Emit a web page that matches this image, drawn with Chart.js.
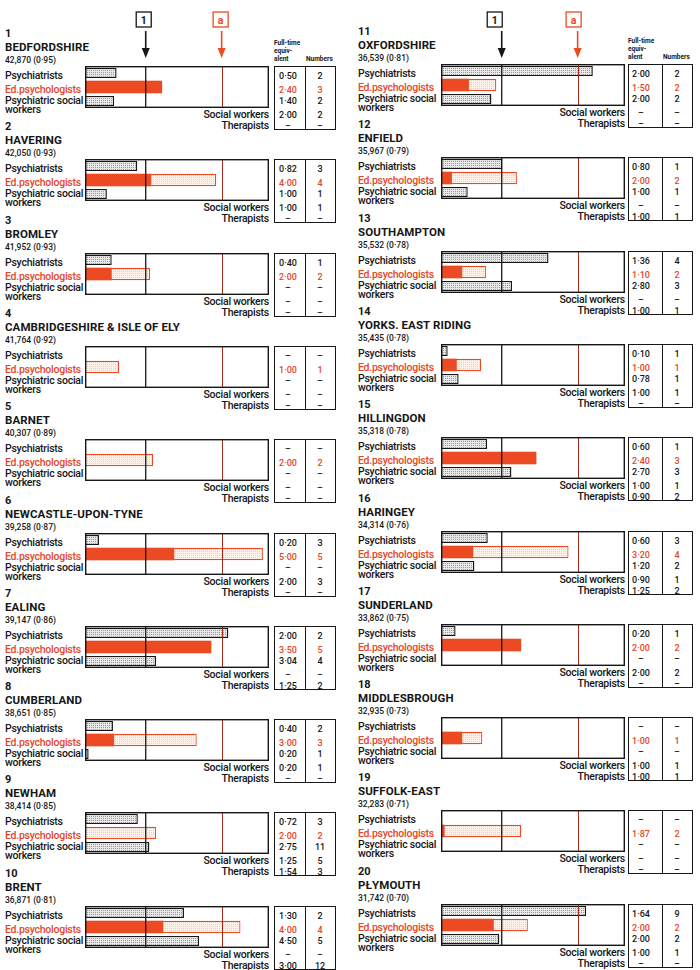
<!DOCTYPE html>
<html>
<head>
<meta charset="utf-8">
<script src="https://cdn.jsdelivr.net/npm/chart.js@4"></script>
<style>
  body { margin: 0; background: #fff; }
  #page { position: relative; width: 700px; height: 970px; overflow: hidden;
          font-family: Roboto, "Liberation Sans", Arial, sans-serif; color: #161616; }
  .t { position: absolute; white-space: nowrap; line-height: 12px; height: 12px; }
  .lab { font-size: 10.5px; font-weight: 500; letter-spacing: -0.25px; }
  .red { color: #e2472a; }
  .num { font-size: 11px; font-weight: 700; }
  .name { font-size: 11.5px; font-weight: 700; letter-spacing: 0.1px; }
  .pop { font-size: 8.5px; font-weight: 500; }
  .cell { font-size: 9px; font-weight: 500; transform: translateX(-50%); }
  .hd { font-size: 6.5px; font-weight: 700; line-height: 8px; height: 8px; }
  .tbl { position: absolute; border: 1.3px solid #161616; box-sizing: border-box; }
  .tbl i { position: absolute; top: 0; bottom: 0; border-left: 1.2px solid #161616; }
  .box { position: absolute; }
  svg { position: absolute; left: 0; top: 0; }
</style>
</head>
<body>
<div id="page">
  <svg id="heads" width="700" height="70"></svg>
</div>
<script>
// areas, school population and index
const names = ['BEDFORDSHIRE', 'HAVERING', 'BROMLEY', 'CAMBRIDGESHIRE & ISLE OF ELY', 'BARNET',
  'NEWCASTLE-UPON-TYNE', 'EALING', 'CUMBERLAND', 'NEWHAM', 'BRENT',
  'OXFORDSHIRE', 'ENFIELD', 'SOUTHAMPTON', 'YORKS. EAST RIDING', 'HILLINGDON',
  'HARINGEY', 'SUNDERLAND', 'MIDDLESBROUGH', 'SUFFOLK-EAST', 'PŁYMOUTH'];
const population = [42870, 42050, 41952, 41764, 40307, 39258, 39147, 38651, 38414, 36871,
  36539, 35967, 35532, 35435, 35318, 34314, 33862, 32935, 32283, 31742];
const popIndex = [0.95, 0.93, 0.93, 0.92, 0.89, 0.87, 0.86, 0.85, 0.85, 0.81,
  0.81, 0.79, 0.78, 0.78, 0.78, 0.76, 0.75, 0.73, 0.71, 0.70];

// bar lengths, in units of the standard (line "1")
const psychBar = [0.52, 0.86, 0.44, null, null, 0.23, 2.36, 0.46, 0.87, 1.63,
  2.50, 1.01, 1.77, 0.11, 0.76, 0.77, 0.24, null, null, 2.39];
const edBar = [1.27, 2.16, 1.07, 0.56, 1.12, 2.93, 2.08, 1.84, 1.17, 2.56,
  0.91, 1.25, 0.74, 0.66, 1.57, 2.10, 1.32, 0.68, 1.32, 1.43];
const edSolid = [1.27, 1.09, 0.44, 0, 0, 1.47, 2.08, 0.48, 0, 1.29,
  0.46, 0.18, 0.35, 0.26, 1.57, 0.53, 1.32, 0.35, 0.06, 0.87];
const pswBar = [0.48, 0.36, null, null, null, null, 1.17, 0.06, 1.06, 1.88,
  0.83, 0.44, 1.17, 0.29, 1.16, 0.55, null, null, null, 0.96];
const standardLine = 1;
const edLine = 2.25;

// table: full-time equivalent and numbers
const psychFte = [0.50, 0.82, 0.40, null, null, 0.20, 2.00, 0.40, 0.72, 1.30,
  2.00, 0.80, 1.36, 0.10, 0.60, 0.60, 0.20, null, null, 1.64];
const psychNum = [2, 3, 1, null, null, 3, 2, 2, 3, 2, 2, 1, 4, 1, 1, 3, 1, null, null, 9];
const edFte = [2.40, 4.00, 2.00, 1.00, 2.00, 5.00, 3.50, 3.00, 2.00, 4.00,
  1.50, 2.00, 1.10, 1.00, 2.40, 3.20, 2.00, 1.00, 1.87, 2.00];
const edNum = [3, 4, 2, 1, 2, 5, 5, 3, 2, 4, 2, 2, 2, 1, 3, 4, 2, 1, 2, 2];
const pswFte = [1.40, 1.00, null, null, null, null, 3.04, 0.20, 2.75, 4.50,
  2.00, 1.00, 2.80, 0.78, 2.70, 1.20, null, null, null, 2.00];
const pswNum = [2, 1, null, null, null, null, 4, 1, 11, 5, 2, 1, 3, 1, 3, 2, null, null, null, 2];
const swFte = [2.00, 1.00, null, null, null, 2.00, null, 0.20, 1.25, null,
  null, null, null, 1.00, 1.00, 0.90, 2.00, 1.00, null, 1.00];
const swNum = [2, 1, null, null, null, 3, null, 1, 5, null, null, null, null, 1, 1, 1, 2, 1, null, 1];
const therFte = [null, null, null, null, null, null, 1.25, null, 1.54, 3.00,
  null, 1.00, 1.00, null, 0.90, 1.25, null, 1.00, null, null];
const therNum = [null, null, null, null, null, null, 2, null, 3, 12, null, 1, 1, null, 2, 2, null, 1, null, null];

const RED = '#ec4a22';
const cols = [
  { boxLeft: 85, top0: 66, labelX: 5, tblLeft: 274, tblW: 62, div: 31, fteC: 14, numC: 46 },
  { boxLeft: 441, top0: 64, labelX: 358, tblLeft: 628, tblW: 65, div: 34, fteC: 13, numC: 49 }
];
const rowStep = 93.3, boxW = 184, boxH = 42;

const page = document.getElementById('page');

function put(text, x, yc, cls, align) {
  const d = document.createElement('div');
  d.className = 't ' + cls;
  d.textContent = text;
  d.style.top = (yc - 6) + 'px';
  if (align === 'right') d.style.right = (700 - x) + 'px';
  else d.style.left = x + 'px';
  page.appendChild(d);
  return d;
}

function fmt(v) { return v == null ? '–' : v.toFixed(2).replace('.', '·'); }

function stipple(bg, dot) {
  const c = document.createElement('canvas');
  c.width = 2; c.height = 2;
  const g = c.getContext('2d');
  g.fillStyle = bg; g.fillRect(0, 0, 2, 2);
  g.fillStyle = dot; g.fillRect(0, 0, 1, 1);
  return g.createPattern(c, 'repeat');
}
const grayFill = stipple('#e8e8e8', '#9a9a9a');
const paleFill = stipple('#fdf3eb', '#f0cdb8');

const frame = {
  id: 'frame',
  afterDatasetsDraw(chart) {
    const { ctx, chartArea: a, scales: { x } } = chart;
    ctx.save();
    ctx.strokeStyle = '#a52a1a';
    ctx.lineWidth = 1;
    const xr = Math.round(x.getPixelForValue(edLine)) + 0.5;
    ctx.beginPath(); ctx.moveTo(xr, a.top); ctx.lineTo(xr, a.bottom); ctx.stroke();
    ctx.strokeStyle = '#161616';
    ctx.lineWidth = 1.3;
    const xb = x.getPixelForValue(standardLine);
    ctx.beginPath(); ctx.moveTo(xb, a.top); ctx.lineTo(xb, a.bottom); ctx.stroke();
    ctx.lineWidth = 1.4;
    ctx.strokeRect(a.left + 0.7, a.top + 0.7, a.width - 1.4, a.height - 1.4);
    ctx.restore();
  }
};

const charts = [];
names.forEach((name, i) => {
  const c = cols[i < 10 ? 0 : 1];
  const T = c.top0 + (i % 10) * rowStep;
  const L = c.boxLeft;
  const X = c.labelX;

  put(String(i + 1), X, T - 32, 'num');
  put(name, X, T - 19, 'name');
  put(population[i].toLocaleString('en-GB') + ' (' + fmt(popIndex[i]) + ')', X, T - 6, 'pop');

  put('Psychiatrists', X, T + 10, 'lab');
  put('Ed.psychologists', X, T + 24, 'lab red');
  put('Psychiatric social', X, T + 35, 'lab');
  put('workers', X, T + 44, 'lab');
  put('Social workers', L + boxW, T + 49, 'lab', 'right');
  put('Therapists', L + boxW, T + 60, 'lab', 'right');

  // table
  const tb = document.createElement('div');
  tb.className = 'tbl';
  tb.style.left = c.tblLeft + 'px'; tb.style.top = T + 'px';
  tb.style.width = c.tblW + 'px'; tb.style.height = '64px';
  const dv = document.createElement('i');
  dv.style.left = (c.div - 1) + 'px';
  tb.appendChild(dv);
  page.appendChild(tb);
  const rows = [
    [psychFte[i], psychNum[i], T + 10, ''],
    [edFte[i], edNum[i], T + 24, ' red'],
    [pswFte[i], pswNum[i], T + 35, ''],
    [swFte[i], swNum[i], T + 49, ''],
    [therFte[i], therNum[i], T + 60, '']
  ];
  rows.forEach(r => {
    put(fmt(r[0]), c.tblLeft + c.fteC, r[2], 'cell' + r[3]);
    put(r[1] == null ? '–' : String(r[1]), c.tblLeft + c.numC, r[2], 'cell' + r[3]);
  });
  if (i % 10 === 0) {
    const hx = c.tblLeft;
    [['Full-time', T - 23], ['equiv-', T - 15], ['alent', T - 7]].forEach(h => {
      const d = put(h[0], hx, h[1], 'hd');
      d.style.top = (h[1] - 4) + 'px';
    });
    const d = put('Numbers', hx + c.div + 1, T - 7, 'hd');
    d.style.top = (T - 11) + 'px';
  }

  // bars
  const holder = document.createElement('div');
  holder.className = 'box';
  holder.style.left = L + 'px'; holder.style.top = T + 'px';
  holder.style.width = boxW + 'px'; holder.style.height = boxH + 'px';
  const cv = document.createElement('canvas');
  holder.appendChild(cv);
  page.appendChild(holder);

  charts.push(new Chart(cv, {
    type: 'bar',
    data: {
      labels: ['Psychiatrists', 'Ed.psychologists', 'Psychiatric social workers'],
      datasets: [
        { label: 'Ed.psychologists (solid)', data: [null, edSolid[i] || null, null],
          backgroundColor: RED, borderWidth: 0, order: 0,
          grouped: false, barPercentage: 0.9, categoryPercentage: 1 },
        { label: 'Ed.psychologists', data: [null, edBar[i], null],
          backgroundColor: paleFill, borderColor: RED, borderWidth: 1.2, borderSkipped: false, order: 1,
          grouped: false, barPercentage: 0.9, categoryPercentage: 1 },
        { label: 'Psychiatrists / PSW', data: [psychBar[i], null, pswBar[i]],
          backgroundColor: grayFill, borderColor: '#161616', borderWidth: 1.4, borderSkipped: false, order: 2,
          grouped: false, barPercentage: 0.72, categoryPercentage: 1 }
      ]
    },
    options: {
      indexAxis: 'y',
      responsive: true,
      maintainAspectRatio: false,
      animation: false,
      layout: { padding: 0 },
      plugins: { legend: { display: false }, tooltip: { enabled: false } },
      scales: {
        x: { display: false, min: 0, max: 3.03 },
        y: { display: false }
      }
    },
    plugins: [frame]
  }));
});

// header markers "1" and "a" with arrows, placed from the first chart in each column
const svg = document.getElementById('heads');
const NS = 'http://www.w3.org/2000/svg';
function el(tag, attrs, text) {
  const e = document.createElementNS(NS, tag);
  for (const k in attrs) e.setAttribute(k, attrs[k]);
  if (text) e.textContent = text;
  svg.appendChild(e);
  return e;
}
[0, 10].forEach((ci, k) => {
  const ch = charts[ci];
  const L = cols[k].boxLeft;
  const marks = [
    { v: standardLine, txt: '1', col: '#161616', shift: k ? -7 : -2 },
    { v: edLine, txt: 'a', col: RED, shift: k ? -4 : -1 }
  ];
  marks.forEach(m => {
    const x = L + ch.scales.x.getPixelForValue(m.v);
    const bx = x + m.shift;
    el('rect', { x: bx - 7.5, y: 12, width: 15, height: 15, fill: '#fff', stroke: m.col, 'stroke-width': 1.3 });
    el('text', { x: bx, y: 23.5, 'text-anchor': 'middle', 'font-family': 'Roboto, sans-serif',
      'font-size': 10.5, 'font-weight': 700, fill: m.col }, m.txt);
    el('line', { x1: x, y1: 31, x2: x, y2: 50, stroke: m.col, 'stroke-width': 1.6 });
    el('path', { d: `M${x - 4} ${48} L${x + 4} ${48} L${x} ${58} Z`, fill: m.col });
  });
});
</script>
</body>
</html>
